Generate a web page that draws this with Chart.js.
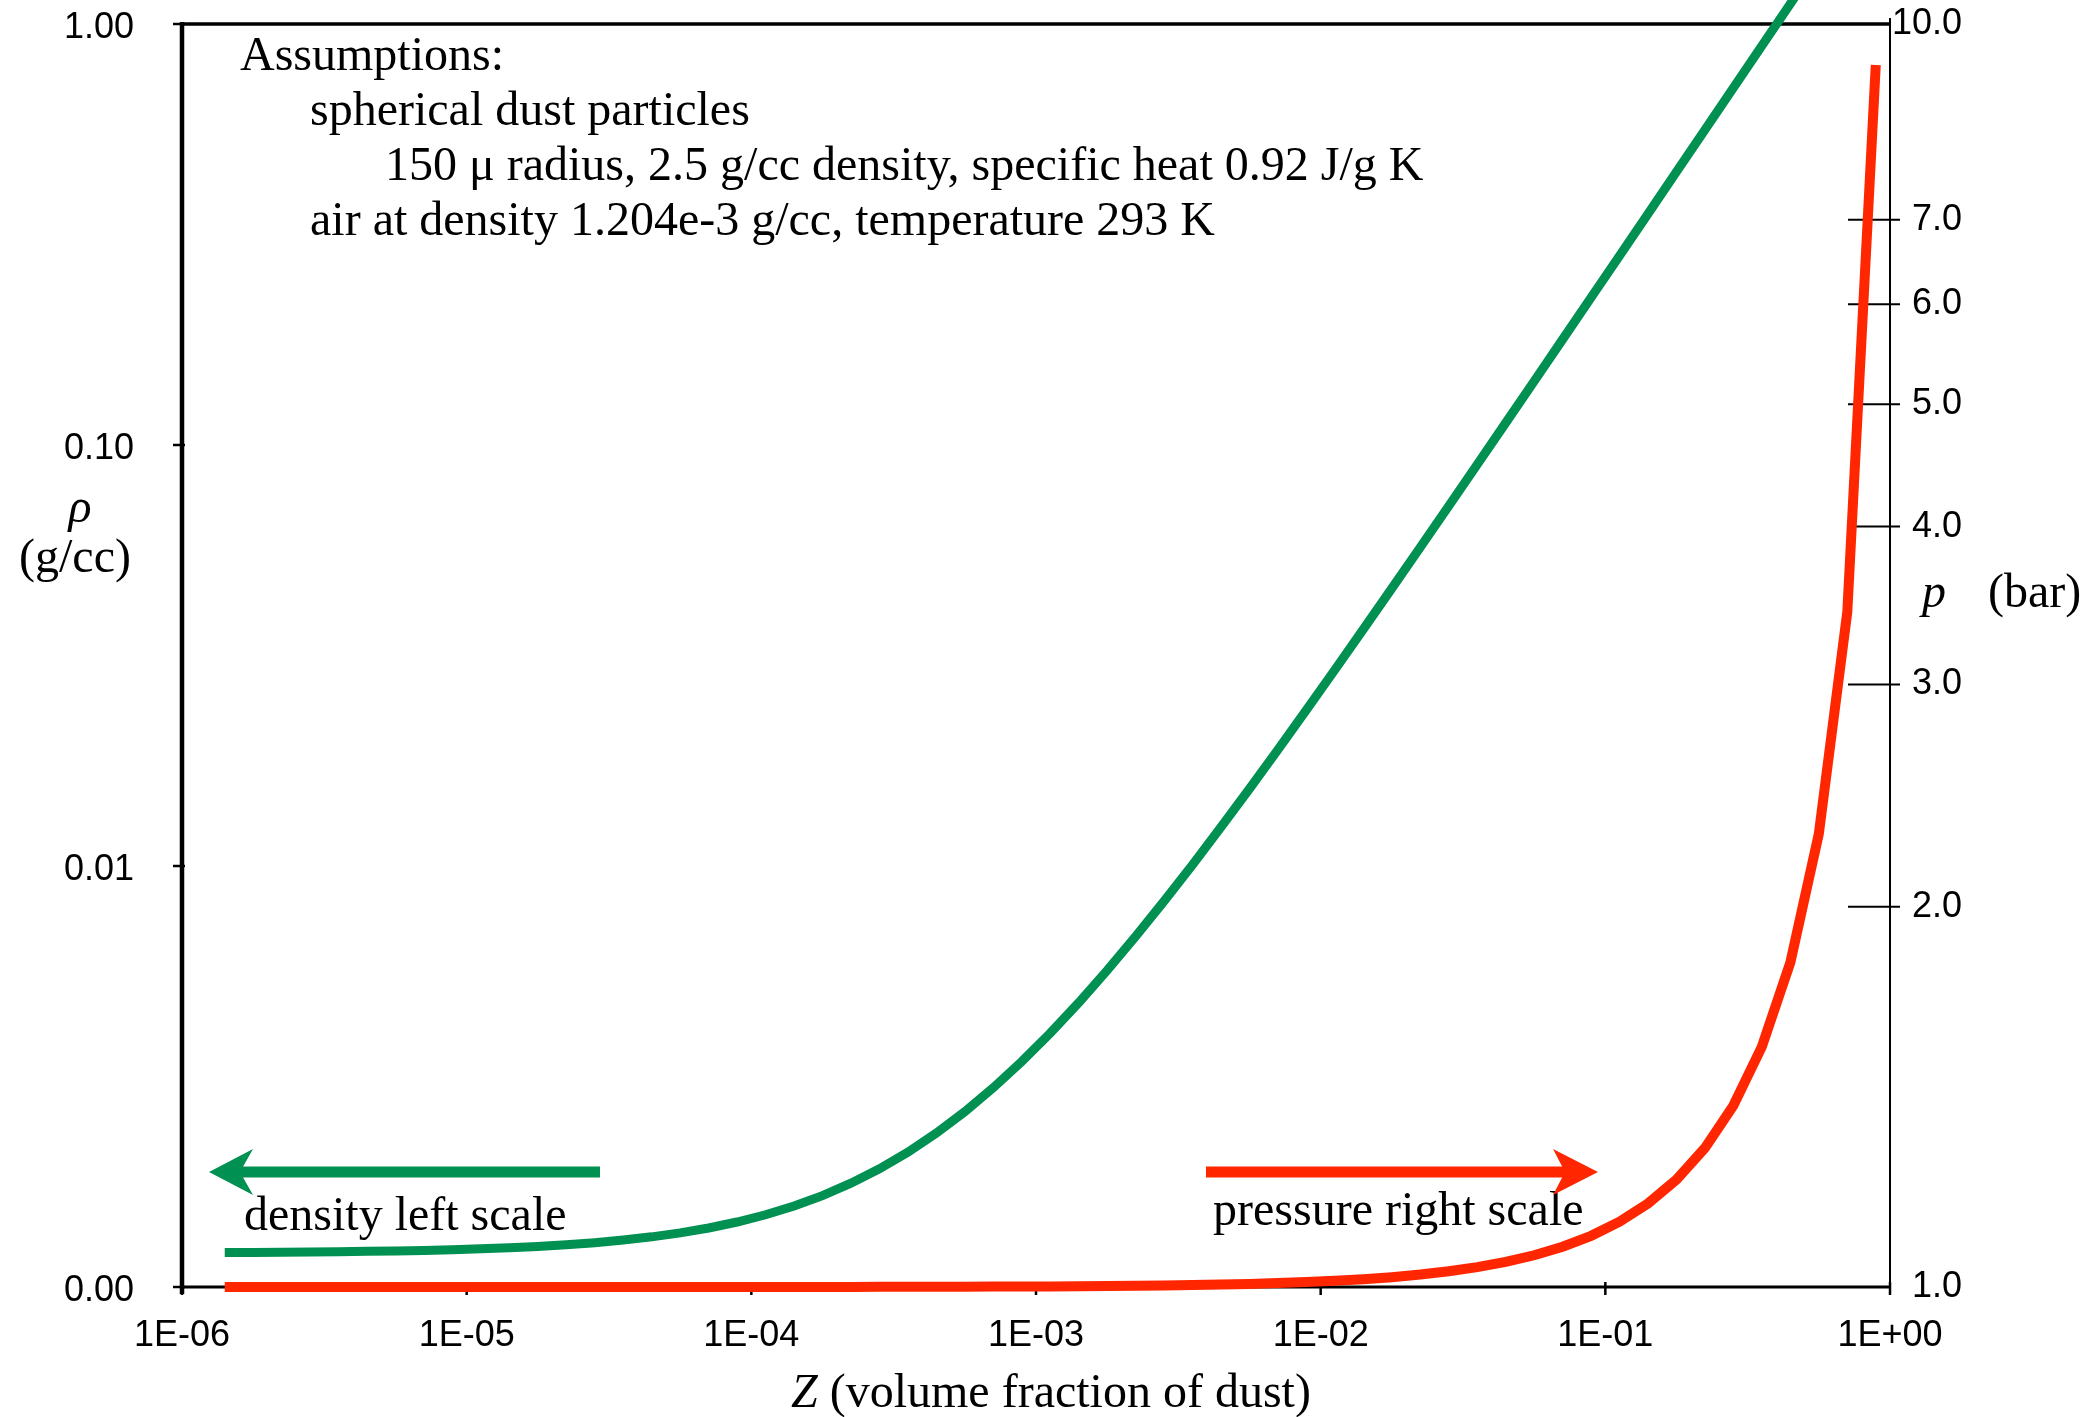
<!DOCTYPE html>
<html>
<head>
<meta charset="utf-8">
<script src="https://cdn.jsdelivr.net/npm/chart.js@4"></script>
<style>
  html, body { margin: 0; padding: 0; background: #fff; }
  canvas { display: block; }
</style>
</head>
<body>
<canvas id="chart" width="2094" height="1417"></canvas>
<script>
// volume fraction of dust (x)
var zValues = [
  1.413e-6, 1.778e-6, 2.239e-6, 2.818e-6, 3.548e-6, 4.467e-6, 5.623e-6, 7.079e-6, 8.913e-6,
  1.122e-5, 1.413e-5, 1.778e-5, 2.239e-5, 2.818e-5, 3.548e-5, 4.467e-5, 5.623e-5, 7.079e-5, 8.913e-5,
  1.122e-4, 1.413e-4, 1.778e-4, 2.239e-4, 2.818e-4, 3.548e-4, 4.467e-4, 5.623e-4, 7.079e-4, 8.913e-4,
  1.122e-3, 1.413e-3, 1.778e-3, 2.239e-3, 2.818e-3, 3.548e-3, 4.467e-3, 5.623e-3, 7.079e-3, 8.913e-3,
  1.122e-2, 1.413e-2, 1.778e-2, 2.239e-2, 2.818e-2, 3.548e-2, 4.467e-2, 5.623e-2, 7.079e-2, 8.913e-2,
  0.1122, 0.1413, 0.1778, 0.2239, 0.2818, 0.3548, 0.4467, 0.5623, 0.7079, 0.8913
];
// density (g/cc), left scale
var density = [
  0.0012075, 0.0012084, 0.0012096, 0.0012110, 0.0012129, 0.0012152, 0.0012181, 0.0012217, 0.0012263,
  0.0012321, 0.0012393, 0.0012485, 0.0012600, 0.0012745, 0.0012927, 0.0013157, 0.0013446, 0.0013810, 0.0014268,
  0.0014845, 0.0015573, 0.0016485, 0.0017638, 0.0019085, 0.0020910, 0.0023208, 0.0026098, 0.0029738, 0.0034323,
  0.004009, 0.004737, 0.005649, 0.006802, 0.008249, 0.010074, 0.012372, 0.015262, 0.018902, 0.023487,
  0.029254, 0.036529, 0.045654, 0.057179, 0.071654, 0.089904, 0.11288, 0.14178, 0.17817, 0.22402,
  0.2816, 0.3543, 0.4455, 0.5607, 0.7054, 0.8878, 1.1174, 1.4063
];
// pressure (bar), right scale
var pressure = [
  1.0000014, 1.0000018, 1.0000022, 1.0000028, 1.0000035, 1.0000045, 1.0000056, 1.0000071, 1.0000089,
  1.0000112, 1.0000141, 1.0000178, 1.0000224, 1.0000282, 1.0000355, 1.0000447, 1.0000562, 1.0000708, 1.0000891,
  1.000112, 1.000141, 1.000178, 1.000224, 1.000282, 1.000355, 1.000447, 1.000563, 1.000709, 1.000892,
  1.001123, 1.001415, 1.001781, 1.002244, 1.002826, 1.003561, 1.004487, 1.005655, 1.007129, 1.008993,
  1.011347, 1.014333, 1.018102, 1.022903, 1.029003, 1.036785, 1.046759, 1.05958, 1.076182, 1.09785,
  1.12638, 1.16455, 1.21625, 1.28849, 1.39237, 1.5499, 1.8073, 2.2847, 3.4235, 9.28
];

var xTicks = [1e-6, 1e-5, 1e-4, 1e-3, 1e-2, 1e-1, 1];
var xTickLabels = ["1E-06", "1E-05", "1E-04", "1E-03", "1E-02", "1E-01", "1E+00"];
var rhoTicks = [0.001, 0.01, 0.1, 1];
var rhoTickLabels = ["0.00", "0.01", "0.10", "1.00"];
var pTicks = [1, 2, 3, 4, 5, 6, 7, 10];
var pTickLabels = ["1.0", "2.0", "3.0", "4.0", "5.0", "6.0", "7.0", "10.0"];

var GREEN = '#009051';
var RED = '#ff2600';
var SERIF = '"Liberation Serif", "Times New Roman", serif';
var SANS = '"Liberation Sans", Arial, Helvetica, sans-serif';

function toPoints(xs, ys) {
  var pts = [];
  for (var i = 0; i < ys.length; i++) pts.push({x: xs[i], y: ys[i]});
  return pts;
}

function setTicks(values) {
  return function(scale) {
    scale.ticks = values.map(function(v) { return {value: v}; });
  };
}

// fix the box size and drop the label overflow padding
function fixSize(w, h) {
  return function(s) {
    if (w !== null) s.width = w;
    if (h !== null) s.height = h;
    s.paddingTop = 0; s.paddingBottom = 0;
    s.paddingLeft = 0; s.paddingRight = 0;
  };
}

function line(ctx, x1, y1, x2, y2) {
  ctx.beginPath();
  ctx.moveTo(x1, y1);
  ctx.lineTo(x2, y2);
  ctx.stroke();
}

var axesPlugin = {
  id: 'axesPlugin',
  beforeDatasetsDraw: function(chart) {
    var ctx = chart.ctx, a = chart.chartArea;
    var xs = chart.scales.x, yl = chart.scales.y, yr = chart.scales.y2;
    ctx.save();
    ctx.strokeStyle = '#000';
    ctx.lineCap = 'butt';
    // frame
    ctx.lineWidth = 3.5;
    line(ctx, a.left, a.top, a.right, a.top);
    ctx.lineWidth = 2.8;
    line(ctx, a.left, a.bottom, a.right, a.bottom);
    ctx.lineWidth = 4.5;
    line(ctx, a.left, a.top - 2, a.left, a.bottom + 7);
    ctx.lineWidth = 2;
    line(ctx, a.right, a.top - 6, a.right, a.bottom + 8);
    // ticks
    ctx.lineWidth = 2.5;
    xTicks.forEach(function(v) {
      var px = xs.getPixelForValue(v);
      line(ctx, px, a.bottom - 5, px, a.bottom + 8);
    });
    rhoTicks.forEach(function(v) {
      var py = yl.getPixelForValue(v);
      line(ctx, a.left - 9, py, a.left + 3, py);
    });
    ctx.lineWidth = 2;
    pTicks.forEach(function(v) {
      if (v === 1 || v === 10) return;
      var py = yr.getPixelForValue(v);
      line(ctx, a.right - 42, py, a.right + 10, py);
    });
    ctx.restore();
  },
  afterDraw: function(chart) {
    var ctx = chart.ctx;
    ctx.save();
    ctx.fillStyle = '#000';
    ctx.textBaseline = 'alphabetic';
    ctx.textAlign = 'left';

    // assumptions note
    ctx.font = '48px ' + SERIF;
    ctx.fillText('Assumptions:', 240, 70);
    ctx.fillText('spherical dust particles', 310, 125);
    ctx.fillText('150 \u03bc radius, 2.5 g/cc density, specific heat 0.92 J/g K', 385, 180);
    ctx.fillText('air at density 1.204e-3 g/cc, temperature 293 K', 310, 235);

    // series notes
    ctx.fillText('density left scale', 244, 1230);
    ctx.fillText('pressure right scale', 1213, 1225);

    // x title
    ctx.font = 'italic 48px ' + SERIF;
    var zw = ctx.measureText('Z').width;
    ctx.fillText('Z', 791, 1407);
    ctx.font = '48px ' + SERIF;
    ctx.fillText(' (volume fraction of dust)', 791 + zw, 1407);

    // left title
    ctx.textAlign = 'center';
    ctx.font = 'italic 48px ' + SERIF;
    ctx.fillText('\u03c1', 80, 522);
    ctx.font = '48px ' + SERIF;
    ctx.fillText('(g/cc)', 75, 572);

    // right title
    ctx.textAlign = 'left';
    ctx.font = 'italic 48px ' + SERIF;
    ctx.fillText('p', 1922, 607);
    ctx.font = '48px ' + SERIF;
    ctx.fillText('(bar)', 1988, 607);

    // arrows
    ctx.lineWidth = 11;
    ctx.strokeStyle = GREEN;
    line(ctx, 600, 1172, 240, 1172);
    ctx.fillStyle = GREEN;
    ctx.beginPath();
    ctx.moveTo(209, 1172);
    ctx.lineTo(253, 1149);
    ctx.lineTo(240, 1172);
    ctx.lineTo(253, 1195);
    ctx.closePath();
    ctx.fill();

    ctx.strokeStyle = RED;
    line(ctx, 1206, 1172, 1565, 1172);
    ctx.fillStyle = RED;
    ctx.beginPath();
    ctx.moveTo(1598, 1172);
    ctx.lineTo(1553, 1149);
    ctx.lineTo(1565, 1172);
    ctx.lineTo(1553, 1195);
    ctx.closePath();
    ctx.fill();
    ctx.restore();
  }
};

var ctx = document.getElementById('chart').getContext('2d');
var chart = new Chart(ctx, {
  type: 'scatter',
  data: {
    datasets: [{
      label: 'pressure',
      data: toPoints(zValues, pressure),
      yAxisID: 'y2',
      showLine: true,
      borderColor: RED,
      borderWidth: 10,
      pointRadius: 0,
      tension: 0,
      clip: false
    }, {
      label: 'density',
      data: toPoints(zValues, density),
      yAxisID: 'y',
      showLine: true,
      borderColor: GREEN,
      borderWidth: 9,
      pointRadius: 0,
      tension: 0,
      clip: false
    }]
  },
  options: {
    responsive: false,
    animation: false,
    devicePixelRatio: 1,
    layout: { padding: { top: 24, right: 132, left: 0, bottom: 0 } },
    plugins: { legend: { display: false }, tooltip: { enabled: false } },
    scales: {
      x: {
        type: 'logarithmic',
        min: 1e-6,
        max: 1,
        afterBuildTicks: setTicks(xTicks),
        afterFit: fixSize(null, 130),
        grid: { display: false, drawTicks: false },
        border: { display: false },
        ticks: {
          autoSkip: false,
          maxRotation: 0,
          padding: 27,
          color: '#000',
          font: { family: SANS, size: 36 },
          callback: function(v) { return xTickLabels[xTicks.indexOf(v)]; }
        }
      },
      y: {
        type: 'logarithmic',
        position: 'left',
        min: 0.001,
        max: 1,
        afterBuildTicks: setTicks(rhoTicks),
        afterFit: fixSize(182, null),
        grid: { display: false, drawTicks: false },
        border: { display: false },
        ticks: {
          autoSkip: false,
          padding: 48,
          labelOffset: 4,
          color: '#000',
          font: { family: SANS, size: 36 },
          callback: function(v) { return rhoTickLabels[rhoTicks.indexOf(v)]; }
        }
      },
      y2: {
        type: 'logarithmic',
        position: 'right',
        min: 1,
        max: 10,
        afterBuildTicks: setTicks(pTicks),
        afterFit: fixSize(72, null),
        grid: { display: false, drawTicks: false },
        border: { display: false },
        ticks: {
          autoSkip: false,
          crossAlign: 'far',
          padding: 10,
          color: '#000',
          font: { family: SANS, size: 36 },
          callback: function(v) { return pTickLabels[pTicks.indexOf(v)]; }
        }
      }
    }
  },
  plugins: [axesPlugin]
});
</script>
</body>
</html>
